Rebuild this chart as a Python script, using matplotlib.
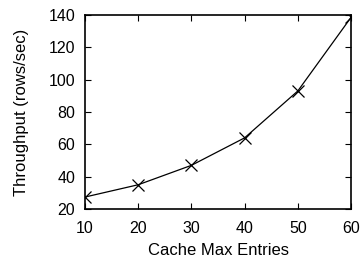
import matplotlib
matplotlib.use('Agg')
import matplotlib.pyplot as plt

entries = [10, 20, 30, 40, 50, 60]
throughput = [27.4, 35, 47, 64, 93, 138.5]
xticks = [10, 20, 30, 40, 50, 60]
yticks = [20, 40, 60, 80, 100, 120, 140]

plt.rcParams['font.family'] = ['Liberation Sans', 'DejaVu Sans']
plt.rcParams['font.size'] = 11.5

fig = plt.figure(figsize=(3.61, 2.62), dpi=100)
ax = fig.add_axes([85 / 361, 1 - 209 / 262, 266 / 361, 194 / 262])
ax.plot(entries, throughput, color='black', lw=0.9, marker='x', ms=9, mew=0.9)
ax.set_xlim(10, 60)
ax.set_ylim(20, 140)
ax.set_xticks(xticks)
ax.set_yticks(yticks)
ax.tick_params(direction='in', top=True, right=True, length=4, width=0.8)
ax.tick_params(axis='x', pad=8.5)
ax.tick_params(axis='y', pad=7)
for s in ax.spines.values():
    s.set_linewidth(1.2)
ax.set_xlabel('Cache Max Entries', fontsize=12)
ax.set_ylabel('Throughput (rows/sec)', fontsize=12)
ax.xaxis.set_label_coords(0.5, -0.175)
ax.yaxis.set_label_coords(-0.21, 0.5)
fig.savefig('out.png', dpi=100)
